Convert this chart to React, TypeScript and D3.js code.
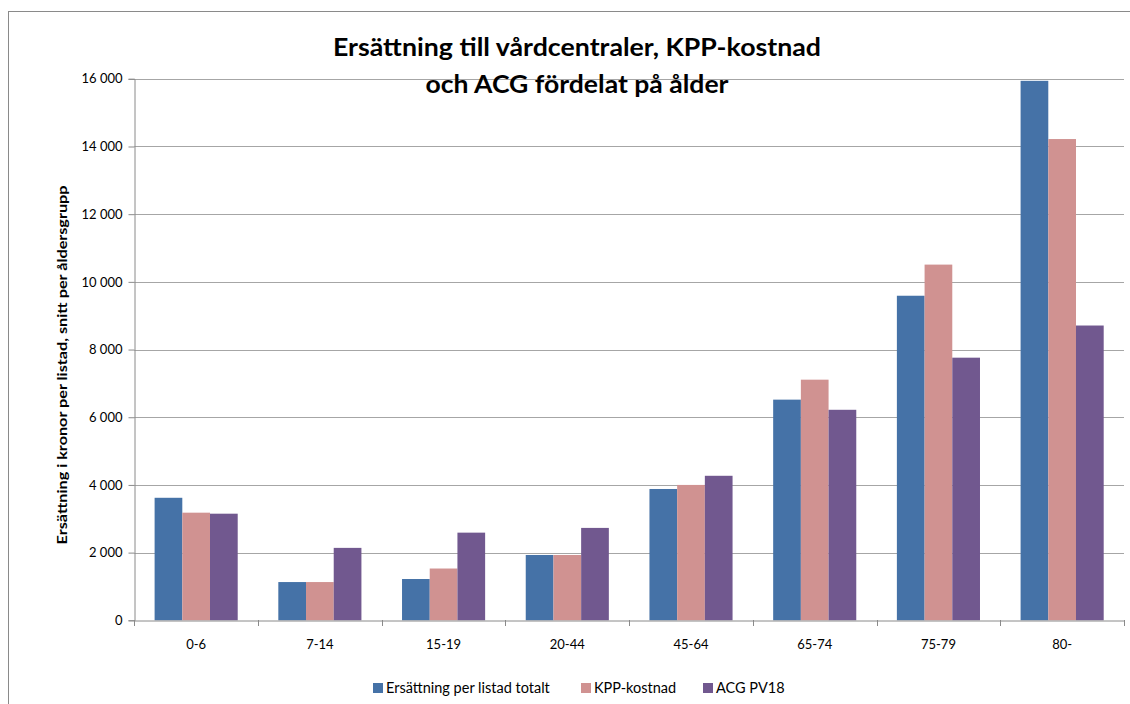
import React, { useEffect, useRef } from 'react'
import * as d3 from 'd3'

const ageGroups = ['0-6', '7-14', '15-19', '20-44', '45-64', '65-74', '75-79', '80-']
const seriesNames = ['Ersättning per listad totalt', 'KPP-kostnad', 'ACG PV18']
const ersattning = [3620, 1130, 1220, 1930, 3880, 6520, 9590, 15940]
const kppKostnad = [3180, 1130, 1530, 1930, 4000, 7110, 10510, 14220]
const acgPv18 = [3150, 2140, 2590, 2730, 4270, 6220, 7760, 8710]
const yTicks = [0, 2000, 4000, 6000, 8000, 10000, 12000, 14000, 16000]
const colors = ['#4572A7', '#D09291', '#71588F']

const titleLines = ['Ersättning till vårdcentraler, KPP-kostnad', 'och ACG fördelat på ålder']
const yTitle = 'Ersättning i kronor per listad, snitt per åldersgrupp'

const FONT = 'Lato, "Open Sans", sans-serif'

const App: React.FC = () => {
  const svgRef = useRef<SVGSVGElement | null>(null)

  useEffect(() => {
    if (!svgRef.current) return
    const svg = d3.select(svgRef.current)
    svg.selectAll('*').remove()

    const width = 1130
    const height = 704
    const margin = { top: 78.8, right: 6, bottom: 83.7, left: 134.3 }

    // outer frame (right/bottom edges fall outside the picture)
    svg
      .append('rect')
      .attr('x', 8.5)
      .attr('y', 11.5)
      .attr('width', 1140)
      .attr('height', 720)
      .attr('fill', '#fff')
      .attr('stroke', '#8a8a8a')

    const x0 = d3
      .scaleBand<string>()
      .domain(ageGroups)
      .range([margin.left, width - margin.right])
      .paddingInner(0)
      .paddingOuter(0)
    const x1 = d3
      .scaleBand<string>()
      .domain(seriesNames)
      .range([0, x0.bandwidth()])
      .paddingInner(0)
      .paddingOuter(0.733)
    const y = d3
      .scaleLinear()
      .domain([0, 16000])
      .range([height - margin.bottom, margin.top])

    // gridlines
    svg
      .append('g')
      .selectAll('line')
      .data(yTicks.filter((d) => d > 0))
      .enter()
      .append('line')
      .attr('x1', margin.left)
      .attr('x2', width - margin.right)
      .attr('y1', (d) => Math.round(y(d)) + 0.5)
      .attr('y2', (d) => Math.round(y(d)) + 0.5)
      .attr('stroke', '#a6a6a6')
      .attr('stroke-width', 1)

    // y axis
    const yAxis = svg
      .append('g')
      .attr('transform', `translate(${Math.round(margin.left) + 0.5},0)`)
      .call(
        d3
          .axisLeft(y)
          .tickValues(yTicks)
          .tickSize(6)
          .tickPadding(6)
          .tickFormat((d) => d3.format(',')(d as number).replace(/,/g, ' ')),
      )
    yAxis.select('.domain').attr('stroke', '#8a8a8a')
    yAxis.selectAll('.tick line').attr('stroke', '#8a8a8a')
    yAxis
      .selectAll('.tick text')
      .attr('font-family', FONT)
      .attr('font-size', 13)
      .attr('fill', '#000')

    // bars
    const dataSeries = [ersattning, kppKostnad, acgPv18]
    dataSeries.forEach((values, si) => {
      svg
        .append('g')
        .attr('fill', colors[si])
        .selectAll('rect')
        .data(values)
        .enter()
        .append('rect')
        .attr('x', (_, i) => x0(ageGroups[i])! + x1(seriesNames[si])!)
        .attr('y', (d) => y(d))
        .attr('width', x1.bandwidth())
        .attr('height', (d) => y(0) - y(d))
    })

    // x axis
    const xAxis = svg
      .append('g')
      .attr('transform', `translate(0,${Math.round(y(0)) + 0.5})`)
      .call(d3.axisBottom(x0).tickSize(0).tickPadding(19))
    xAxis.select('.domain').attr('stroke', '#8a8a8a')
    xAxis
      .selectAll('.tick text')
      .attr('font-family', FONT)
      .attr('font-size', 13)
      .attr('fill', '#000')
    svg
      .append('g')
      .selectAll('line')
      .data(ageGroups.concat(['end']))
      .enter()
      .append('line')
      .attr('x1', (d, i) => Math.round(margin.left + i * x0.step()) + 0.5)
      .attr('x2', (d, i) => Math.round(margin.left + i * x0.step()) + 0.5)
      .attr('y1', Math.round(y(0)))
      .attr('y2', Math.round(y(0)) + 6)
      .attr('stroke', '#8a8a8a')

    // title
    svg
      .append('g')
      .selectAll('text')
      .data(titleLines)
      .enter()
      .append('text')
      .attr('x', 577)
      .attr('y', (_, i) => 56 + i * 37)
      .attr('text-anchor', 'middle')
      .attr('font-family', FONT)
      .attr('font-weight', 'bold')
      .attr('font-size', 24)
      .attr('textLength', (_, i) => (i === 0 ? 488 : 303))
      .attr('lengthAdjust', 'spacingAndGlyphs')
      .text((d) => d)

    // y axis title
    svg
      .append('text')
      .attr('transform', `translate(67,${365}) rotate(-90)`)
      .attr('text-anchor', 'middle')
      .attr('font-family', FONT)
      .attr('font-weight', 'bold')
      .attr('font-size', 12.5)
      .attr('textLength', 359)
      .attr('lengthAdjust', 'spacingAndGlyphs')
      .text(yTitle)

    // legend
    const legendX = [373, 581, 703]
    const legend = svg
      .append('g')
      .selectAll('g')
      .data(seriesNames)
      .enter()
      .append('g')
      .attr('transform', (_, i) => `translate(${legendX[i]},683)`)
    legend
      .append('rect')
      .attr('width', 10)
      .attr('height', 10)
      .attr('fill', (_, i) => colors[i])
    legend
      .append('text')
      .attr('x', 13)
      .attr('y', 10)
      .attr('font-family', FONT)
      .attr('font-size', 14.5)
      .text((d) => d)
  }, [])

  return (
    <svg
      ref={svgRef}
      width={1130}
      height={704}
      style={{ position: 'absolute', left: 0, top: 0, background: '#fff' }}
    ></svg>
  )
}

export default App
